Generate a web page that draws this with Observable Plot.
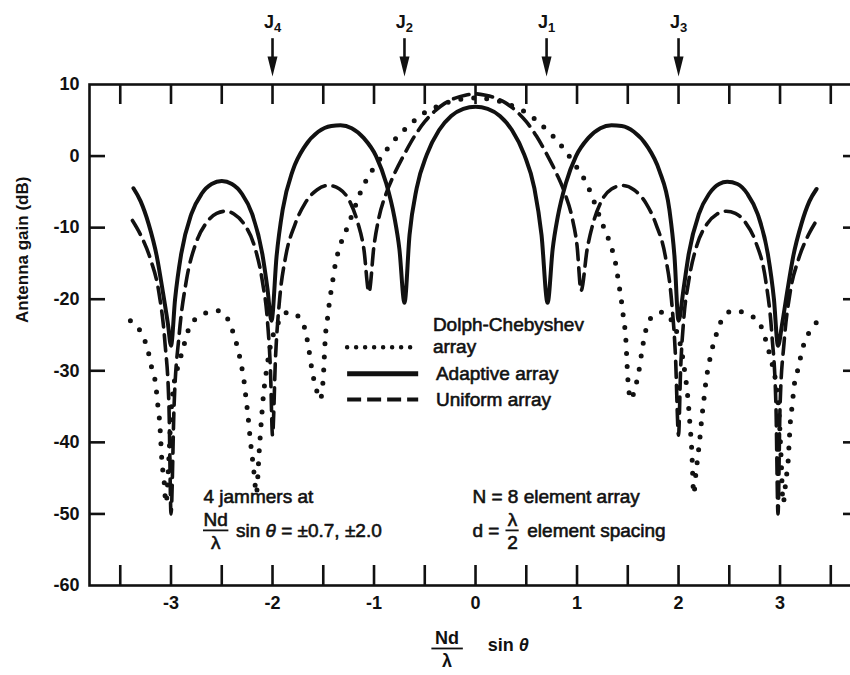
<!DOCTYPE html>
<html><head><meta charset="utf-8">
<script src="https://cdn.jsdelivr.net/npm/d3@7"></script>
<script src="https://cdn.jsdelivr.net/npm/@observablehq/plot@0.6"></script>
<style>
html,body{margin:0;padding:0;background:#fff;}
#chart{width:850px;height:675px;overflow:hidden;}
svg{font-family:"Liberation Sans",Arial,sans-serif;}
</style></head><body><div id="chart"></div>
<script>
// ---- tick values ----
const xTickLabels = [-3, -2, -1, 0, 1, 2, 3];
const xTickMarks = [-3.5, -3, -2.5, -2, -1.5, -1, -0.5, 0, 0.5, 1, 1.5, 2, 2.5, 3, 3.5];
const yTickLabels = [10, 0, -10, -20, -30, -40, -50, -60];
const yTickMarks = [0, -10, -20, -30, -40, -50];

// ---- jammer directions ----
const jammers = [
  {label: "J4", u: -2.0},
  {label: "J2", u: -0.7},
  {label: "J1", u: 0.7},
  {label: "J3", u: 2.0}
];

// ---- series: [Nd/λ sin θ, gain dB] ----
const adaptive = [
  [-3.37,-4.5],[-3.30,-6.3],[-3.22,-9.5],[-3.14,-14],[-3.08,-19],[-3.03,-23.5],[-3.00,-26.5],
  [-2.96,-20],[-2.90,-13.7],[-2.80,-8.1],[-2.70,-5.3],[-2.60,-3.9],[-2.50,-3.5],[-2.40,-3.9],[-2.30,-5.3],[-2.20,-8.1],[-2.10,-13.7],[-2.05,-18.5],[-2.01,-23],
  [-1.96,-14],[-1.90,-7.5],[-1.80,-2.0],[-1.68,1.4],[-1.55,3.4],[-1.42,4.2],[-1.33,4.3],[-1.22,3.9],[-1.10,2.5],[-0.98,0],[-0.88,-3.8],[-0.80,-8.5],[-0.75,-13],[-0.70,-20.5],
  [-0.65,-11],[-0.58,-4.5],[-0.48,0.2],[-0.36,3.6],[-0.24,5.6],[-0.12,6.6],[0,6.9],[0.12,6.6],[0.24,5.6],[0.36,3.6],[0.48,0.2],[0.58,-4.5],[0.65,-11],[0.71,-20.5],
  [0.76,-13],[0.81,-8.5],[0.89,-3.8],[0.99,0],[1.11,2.5],[1.23,3.9],[1.34,4.3],[1.44,4.2],[1.56,3.4],[1.69,1.4],[1.81,-2.0],[1.91,-7.5],[1.96,-14],[2.00,-23],
  [2.05,-18.5],[2.10,-13.7],[2.20,-8.1],[2.30,-5.3],[2.40,-3.9],[2.48,-3.6],[2.58,-3.9],[2.68,-5.3],[2.78,-8.1],[2.88,-13.7],[2.94,-20],[2.98,-26.5],
  [3.02,-23.5],[3.07,-19],[3.13,-14],[3.21,-9.5],[3.29,-6.3],[3.36,-4.6]
];

const uniform = [
  [-3.38,-9.0],[-3.30,-11],[-3.20,-14.5],[-3.12,-19],[-3.06,-26],[-3.02,-35],[-3.00,-50],
  [-2.97,-35],[-2.92,-25],[-2.85,-17.5],[-2.75,-12],[-2.65,-9.3],[-2.55,-8.0],[-2.46,-7.7],[-2.38,-8.1],[-2.28,-9.5],[-2.18,-12.5],[-2.10,-17.5],[-2.05,-23],[-2.02,-30],[-2.00,-39],
  [-1.97,-28],[-1.93,-20],[-1.87,-14],[-1.78,-9.6],[-1.68,-6.6],[-1.56,-4.7],[-1.45,-4.1],[-1.34,-4.6],[-1.24,-6.3],[-1.16,-9.3],[-1.10,-13],[-1.05,-19],
  [-1.00,-12.5],[-0.95,-8.5],[-0.88,-5.2],[-0.80,-2.5],[-0.70,0.3],[-0.60,2.8],[-0.50,4.8],[-0.40,6.3],[-0.30,7.4],[-0.20,8.1],[-0.10,8.5],[0,8.7],
  [0.10,8.5],[0.20,8.1],[0.30,7.4],[0.40,6.3],[0.50,4.8],[0.60,2.8],[0.70,0.3],[0.80,-2.5],[0.88,-5.2],[0.95,-8.5],[1.00,-12.5],[1.04,-18.8],
  [1.10,-13],[1.16,-9.3],[1.24,-6.3],[1.34,-4.6],[1.45,-4.1],[1.56,-4.7],[1.68,-6.6],[1.78,-9.6],[1.87,-14],[1.93,-20],[1.97,-28],[2.00,-39],
  [2.02,-30],[2.05,-23],[2.10,-17.5],[2.18,-12.5],[2.28,-9.5],[2.38,-8.1],[2.47,-7.7],[2.56,-8.0],[2.66,-9.3],[2.76,-12],[2.86,-17.5],[2.92,-25],[2.96,-35],[2.98,-50],
  [3.00,-35],[3.04,-26],[3.10,-19],[3.18,-14.5],[3.28,-11],[3.36,-9.0]
];

const dolph = [
  [-3.40,-23],[-3.29,-24.8],[-3.23,-27],[-3.19,-29.6],[-3.15,-32],[-3.13,-34.8],[-3.11,-37.5],[-3.10,-40],[-3.09,-42.6],[-3.07,-45],[-3.05,-48.5],
  [-3.02,-42],[-3.00,-36],[-2.97,-31.8],[-2.92,-28.9],[-2.88,-26.8],[-2.82,-24],[-2.70,-22.2],[-2.54,-21.6],[-2.44,-22.8],[-2.38,-25],[-2.34,-27],[-2.31,-29],[-2.28,-31.5],[-2.26,-34],[-2.24,-36.5],[-2.22,-39.5],[-2.20,-42],[-2.18,-44.5],[-2.16,-47.2],
  [-2.13,-41],[-2.11,-37],[-2.09,-33.5],[-2.06,-30],[-2.02,-26.5],[-1.95,-23.5],[-1.84,-21.8],[-1.73,-22.6],[-1.67,-24.8],[-1.64,-27.2],[-1.61,-30],[-1.57,-32.5],[-1.53,-34],
  [-1.50,-31],[-1.49,-28.2],[-1.48,-25.4],[-1.46,-22.9],[-1.44,-20.5],[-1.41,-17.7],[-1.38,-15],[-1.34,-12.8],[-1.27,-10.2],[-1.20,-7.6],[-1.14,-5.3],[-1.07,-3.2],[-0.97,-1.0],[-0.87,1.0],[-0.75,3.0],[-0.63,4.6],[-0.52,5.9],[-0.40,6.8],[-0.25,7.6],[-0.12,8.0],[0,8.1],
  [0.12,8.0],[0.25,7.6],[0.40,6.8],[0.52,5.9],[0.63,4.6],[0.75,3.0],[0.87,1.0],[0.97,-1.0],[1.07,-3.2],[1.14,-5.3],[1.20,-7.6],[1.27,-10.2],[1.34,-12.8],[1.38,-15],[1.41,-17.7],[1.44,-20.5],[1.46,-22.9],[1.48,-25.4],[1.49,-28.2],[1.50,-31],[1.53,-34],
  [1.57,-32.5],[1.61,-30],[1.64,-27.2],[1.67,-24.8],[1.73,-22.6],[1.84,-21.8],[1.95,-23.5],[2.02,-26.5],[2.06,-30],[2.09,-33.5],[2.11,-37],[2.13,-41],[2.15,-47.2],
  [2.17,-44.5],[2.19,-42],[2.21,-39.5],[2.23,-36.5],[2.25,-34],[2.27,-31.5],[2.30,-29],[2.33,-27],[2.37,-25],[2.43,-22.8],[2.54,-21.6],[2.70,-22.2],[2.82,-24],[2.88,-26.8],[2.92,-28.9],[2.96,-31.8],[2.99,-36],[3.01,-42],[3.03,-48.5],
  [3.06,-45],[3.08,-42.6],[3.09,-40],[3.10,-37.5],[3.12,-34.8],[3.14,-32],[3.18,-29.6],[3.22,-27],[3.28,-24.8],[3.38,-23]
];

// ---- text ----
const legendLabels = ["Dolph-Chebyshev", "array", "Adaptive array", "Uniform array"];
const yAxisTitle = "Antenna gain (dB)";

const FONT = "Liberation Sans, Arial, sans-serif";
const K = "#111";
// shared style for annotation text (slightly thickened like the printed original)
const T = {fontSize: 19, fill: K, stroke: K, strokeWidth: 0.6};
const TB = {fontSize: 18, fontWeight: "bold", fill: K};

const plot = Plot.plot({
  width: 850,
  height: 675,
  marginLeft: 89,
  marginRight: -1,
  marginTop: 84,
  marginBottom: 90,
  style: {fontFamily: FONT, background: "#fff", color: K},
  x: {domain: [-3.803, 3.704]},
  y: {domain: [-60, 10]},
  marks: [
    Plot.frame({stroke: K, strokeWidth: 2.6}),
    // inward tick marks
    Plot.tickX(xTickMarks, {x: d => d, insetBottom: 481, stroke: K, strokeWidth: 2.6}),
    Plot.tickX(xTickMarks, {x: d => d, insetTop: 481, stroke: K, strokeWidth: 2.6}),
    Plot.tickY(yTickMarks, {y: d => d, insetRight: 746, stroke: K, strokeWidth: 2.6}),
    Plot.tickY(yTickMarks, {y: d => d, insetLeft: 754, stroke: K, strokeWidth: 2.6}),
    // tick labels
    Plot.axisX(xTickLabels, {anchor: "bottom", tickSize: 0, tickPadding: 11, fontSize: 18, fontWeight: "bold", tickFormat: d => String(d), label: null}),
    Plot.axisY(yTickLabels, {anchor: "left", tickSize: 0, tickPadding: 10, fontSize: 18, fontWeight: "bold", tickFormat: d => String(d), label: null}),
    Plot.text([yAxisTitle], {frameAnchor: "left", dx: -67, dy: -12, rotate: -90, fontSize: 17, fontWeight: "bold", fill: K}),
    // curves
    Plot.line(uniform, {x: d => d[0], y: d => d[1], curve: "monotone-x", stroke: K, strokeWidth: 3.6, strokeDasharray: "16 8"}),
    Plot.line(adaptive, {x: d => d[0], y: d => d[1], curve: "monotone-x", stroke: K, strokeWidth: 4}),
    Plot.line(dolph, {x: d => d[0], y: d => d[1], curve: "monotone-x", stroke: K, strokeWidth: 5, strokeDasharray: "0 13", strokeLinecap: "round"}),
    // jammer arrows
    Plot.ruleX(jammers, {x: "u", y1: 16.4, y2: 13.6, stroke: K, strokeWidth: 2.6}),
    Plot.vector(jammers, {x: "u", y: 13.9, length: 20, rotate: 180, shape: "spike", r: 5, anchor: "start", fill: K, stroke: "none"}),
    Plot.text(jammers, {x: "u", y: 18.7, text: "label", ...TB}),
    // legend
    Plot.text([legendLabels[0]], {x: -0.42, y: -23.6, textAnchor: "start", ...T}),
    Plot.text([legendLabels[1]], {x: -0.42, y: -26.7, textAnchor: "start", ...T}),
    Plot.text([legendLabels[2]], {x: -0.39, y: -30.4, textAnchor: "start", ...T}),
    Plot.text([legendLabels[3]], {x: -0.39, y: -34.0, textAnchor: "start", ...T}),
    Plot.ruleY([-26.7], {x1: -1.26, x2: -0.56, stroke: K, strokeWidth: 4.5, strokeDasharray: "0 9", strokeLinecap: "round"}),
    Plot.ruleY([-30.4], {x1: -1.26, x2: -0.56, stroke: K, strokeWidth: 5}),
    Plot.ruleY([-34.0], {x1: -1.26, x2: -0.56, stroke: K, strokeWidth: 4, strokeDasharray: "14 6"}),
    // annotation: jammers
    Plot.text(["4 jammers at"], {x: -2.68, y: -47.6, textAnchor: "start", ...T}),
    Plot.text(["Nd"], {x: -2.56, y: -50.9, ...T}),
    Plot.ruleY([-52.3], {x1: -2.68, x2: -2.43, stroke: K, strokeWidth: 1.8}),
    Plot.text(["λ"], {x: -2.56, y: -54.0, ...T}),
    Plot.text(["sin θ = ±0.7, ±2.0"], {x: -2.36, y: -52.4, textAnchor: "start", ...T}),
    // annotation: array
    Plot.text(["N = 8 element array"], {x: -0.03, y: -47.6, textAnchor: "start", ...T}),
    Plot.text(["d ="], {x: -0.03, y: -52.4, textAnchor: "start", ...T}),
    Plot.text(["λ"], {x: 0.365, y: -50.9, ...T}),
    Plot.ruleY([-52.3], {x1: 0.30, x2: 0.43, stroke: K, strokeWidth: 1.8}),
    Plot.text(["2"], {x: 0.365, y: -54.0, ...T}),
    Plot.text(["element spacing"], {x: 0.51, y: -52.4, textAnchor: "start", ...T}),
    // x-axis title
    Plot.text(["Nd"], {x: -0.28, y: -67.3, ...TB}),
    Plot.ruleY([-68.8], {x1: -0.43, x2: -0.12, stroke: K, strokeWidth: 1.8}),
    Plot.text(["λ"], {x: -0.28, y: -70.6, ...TB}),
    Plot.text(["sin θ"], {x: 0.12, y: -68.4, textAnchor: "start", ...TB})
  ]
});

document.getElementById("chart").appendChild(plot);

// subscripts for jammer labels, italic theta
d3.select(plot).selectAll("text").each(function() {
  const t = d3.select(this);
  const s = this.textContent;
  if (/^J\d$/.test(s)) {
    t.text("J");
    t.append("tspan").attr("dy", "0.3em").attr("font-size", 13).text(s[1]);
  } else if (s.includes("θ")) {
    const [a, b] = s.split("θ");
    t.text(a);
    t.append("tspan").attr("font-style", "italic").text("θ");
    if (b) t.append("tspan").text(b);
  }
});
</script>
</body></html>
